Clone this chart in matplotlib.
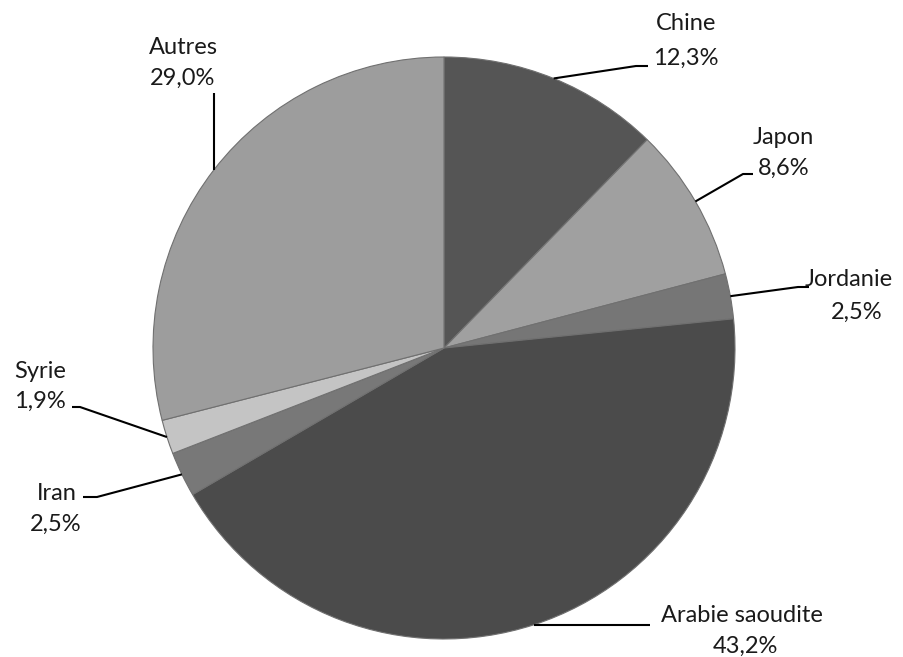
import matplotlib.pyplot as plt
import numpy as np

plt.rcParams['font.family'] = ['Lato', 'DejaVu Sans']

pays = ["Chine", "Japon", "Jordanie", "Arabie saoudite", "Iran", "Syrie", "Autres"]
parts = [12.3, 8.6, 2.5, 43.2, 2.5, 1.9, 29.0]
couleurs = ["#555555", "#a0a0a0", "#767676", "#4b4b4b", "#787878", "#c4c4c4", "#9d9d9d"]

W, H = 904, 657
fig = plt.figure(figsize=(W / 100, H / 100), dpi=100)
ax = fig.add_axes([0, 0, 1, 1])

cx, cy, r = 444, H - 348, 291
wedges, _ = ax.pie(parts, colors=couleurs, startangle=90, counterclock=False,
                   center=(cx, cy), radius=r, frame=True,
                   wedgeprops=dict(edgecolor="#707070", linewidth=0.8))
ax.set_xlim(0, W)
ax.set_ylim(0, H)
ax.set_aspect("equal")
ax.axis("off")

# leader line points after the wedge edge (pixel coords, y from top),
# then centres of name line and value line
layout = [
    ([(636, 66), (648, 66)], (686, 23), (686, 58)),
    ([(743, 174), (753, 174)], (783, 137), (784, 168)),
    ([(798, 287), (809, 287)], (849, 280), (857, 312)),
    ([(650, None)], (742, 615), (745, 646)),
    ([(97, 497), (83, 497)], (57, 494), (56, 524)),
    ([(80, 407), (72, 407)], (40, 371), (40, 401)),
    ([(None, 93)], (183, 48), (183, 78)),
]

for w, nom, val, (pts, p_nom, p_val) in zip(wedges, pays, parts, layout):
    ang = np.deg2rad((w.theta1 + w.theta2) / 2)
    ex, ey = cx + r * np.cos(ang), cy + r * np.sin(ang)
    xs, ys = [ex], [ey]
    for px, py in pts:
        xs.append(ex if px is None else px)
        ys.append(ey if py is None else H - py)
    ax.plot(xs, ys, color="black", lw=1.5, solid_capstyle="butt")
    ax.text(p_nom[0], H - p_nom[1], nom, ha="center", va="center",
            fontsize=17, color="#1a1a1a")
    ax.text(p_val[0], H - p_val[1], f"{val:.1f}%".replace(".", ","), ha="center",
            va="center", fontsize=17, color="#1a1a1a")

fig.savefig("out.png", dpi=100)
